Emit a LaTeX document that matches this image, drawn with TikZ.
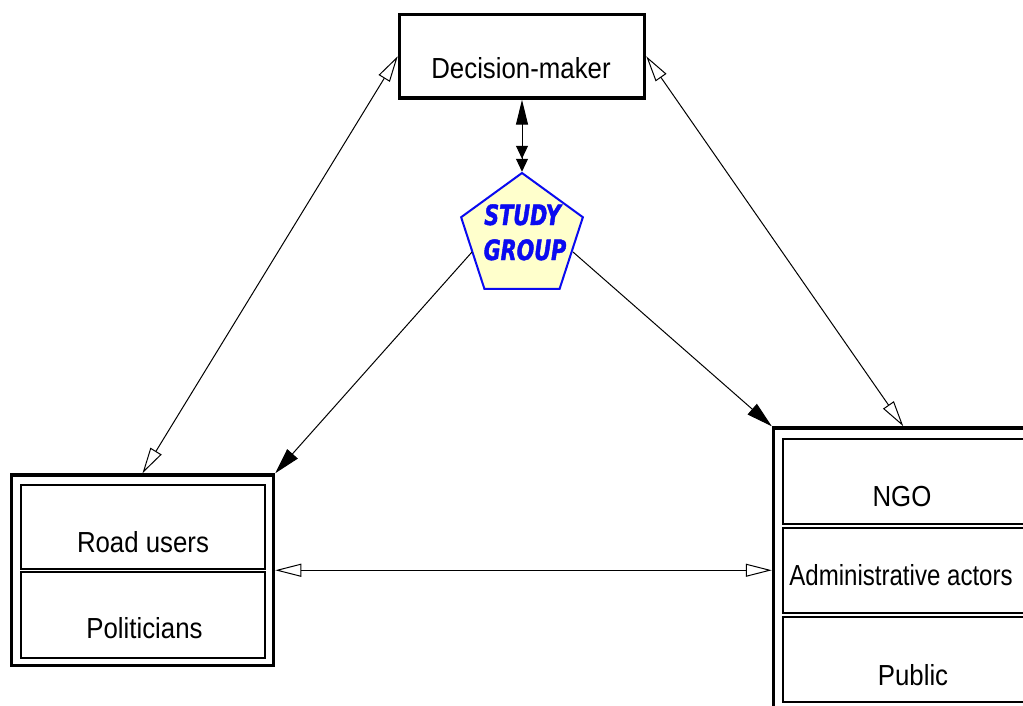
\documentclass[tikz,border=0pt]{standalone}
\usepackage{fontspec}
\setmainfont{Liberation Sans}[FakeStretch=0.89]
\newfontfamily\narrowfont{Liberation Sans}[FakeStretch=0.83]
\newfontfamily\sgfont{DejaVu Sans}[FakeStretch=0.74, FakeBold=1.5]
\usetikzlibrary{shapes.geometric,arrows.meta}
\definecolor{sgblue}{RGB}{10,10,240}
\definecolor{sgfill}{RGB}{255,255,204}
\tikzset{
  outerbox/.style={draw=black, line width=3.5pt, rectangle, inner sep=0pt},
  innerbox/.style={draw=black, line width=2pt, rectangle, inner sep=0pt},
  lbl/.style={anchor=base, inner sep=0pt, font=\fontsize{29}{34}\selectfont},
  sglbl/.style={anchor=base, inner sep=0pt, text=sgblue, font=\sgfont\bfseries\itshape\fontsize{28}{32}\selectfont},
  conn/.style={draw=black, line width=1pt},
  openhead/.tip={Triangle[open, fill=white, length=26pt, width=13pt]},
  bighead/.tip={Triangle[length=26pt, width=14pt]},
}
\begin{document}
\begin{tikzpicture}[x=1pt,y=-1pt]
\useasboundingbox (0,0) rectangle (1023,706);
\clip (0,0) rectangle (1023,706);
\fill[white] (0,0) rectangle (1023,706);
% Decision-maker
\node[outerbox, minimum width=245pt, minimum height=83.5pt] (dm) at (522,56.25) {};
\node[lbl] (dmt) at (521,79) {Decision-maker};
% Study group pentagon
\node[regular polygon, regular polygon sides=5, minimum size=128pt, inner sep=0pt,
      draw=sgblue, fill=sgfill, line width=2pt] (sg) at (522,237) {};
\node[sglbl] (sgt1) at (522.5,225) {STUDY};
\node[sglbl] (sgt2) at (525,260) {GROUP};
% Left group
\node[outerbox, minimum width=262pt, minimum height=190.5pt] (rg) at (142.5,570.25) {};
\node[innerbox, minimum width=244pt, minimum height=84.5pt] (ru) at (143,526.75) {};
\node[innerbox, minimum width=244pt, minimum height=86pt] (po) at (143,615) {};
\node[lbl] (rut) at (143,552) {Road users};
\node[lbl] (pot) at (144.5,638) {Politicians};
% Right group
\node[outerbox, minimum width=259.5pt, minimum height=292pt] (pg) at (903.25,574) {};
\node[innerbox, minimum width=255pt, minimum height=85.5pt] (ngo) at (910,481.25) {};
\node[innerbox, minimum width=255pt, minimum height=85pt] (adm) at (910,570.5) {};
\node[innerbox, minimum width=255pt, minimum height=85pt] (pub) at (910,659.5) {};
\node[lbl] (ngot) at (902,506) {NGO};
\node[lbl, font=\narrowfont\fontsize{29}{34}\selectfont] (admt) at (901,585) {Administrative actors};
\node[lbl] (pubt) at (913,685) {Public};
% connectors
\coordinate (sgL) at (472,252);
\coordinate (sgR) at (573,252);
\draw[conn, {Triangle[length=25pt,width=12pt]}-{Triangle[length=13pt,width=12pt]Triangle[length=13pt,width=12pt]}] (dm.south) -- (sg.corner 1);
\draw[conn, openhead-openhead] (dm.west) -- (rg.north);
\draw[conn, openhead-openhead] (dm.east) -- (pg.north);
\draw[conn, -bighead] (sgL) -- (rg.north east);
\draw[conn, -bighead] (sgR) -- (pg.north west);
\draw[conn, openhead-openhead] (rg.east) -- (rg.east -| pg.west);
\end{tikzpicture}
\end{document}
